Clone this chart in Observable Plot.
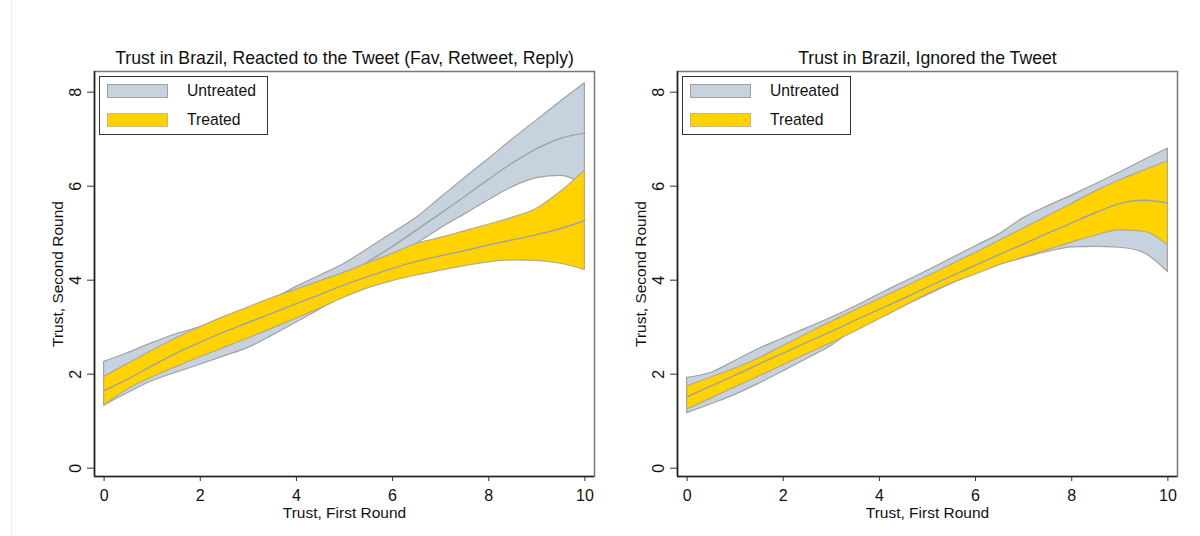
<!DOCTYPE html>
<html>
<head>
<meta charset="utf-8">
<script src="https://cdn.jsdelivr.net/npm/d3@7"></script>
<script src="https://cdn.jsdelivr.net/npm/@observablehq/plot@0.6"></script>
<style>
  html, body { margin: 0; padding: 0; background: #fff; width: 1200px; height: 536px; overflow: hidden; }
  body { font-family: "Liberation Sans", Arial, sans-serif; }
  #wrap { position: relative; width: 1200px; height: 536px; }
  #edge { position: absolute; left: 11px; top: 0; width: 0; height: 536px; border-left: 1px solid #ececec; }
  .panel { position: absolute; top: 0; }
  .legend { position: absolute; top: 76px; width: 169px; height: 59px; border: 1px solid #333; background: #fff; box-sizing: border-box; }
  .sw { position: absolute; left: 7px; width: 61px; height: 14px; box-sizing: border-box; }
  .lt { position: absolute; left: 87px; height: 18px; line-height: 18px; font-size: 15.7px; color: #111; white-space: nowrap; }
</style>
</head>
<body>
<div id="wrap"><div id="edge"></div></div>
<script>
// ---------------- data ----------------
const xs = [0, 0.5, 1, 1.5, 2, 2.5, 3, 3.5, 4, 4.5, 5, 5.5, 6, 6.5, 7, 7.5, 8, 8.5, 9, 9.5, 10];

// Left panel: Reacted to the Tweet
const reactUntreatedLo = [1.33, 1.6, 1.85, 2.03, 2.2, 2.38, 2.56, 2.82, 3.1, 3.38, 3.72, 4.08, 4.45, 4.77, 5.1, 5.4, 5.7, 5.98, 6.17, 6.22, 6.0];
const reactUntreatedMean = [1.8, 2.0, 2.25, 2.45, 2.62, 2.8, 3.0, 3.23, 3.5, 3.8, 4.08, 4.4, 4.72, 5.07, 5.42, 5.78, 6.15, 6.5, 6.8, 7.02, 7.13];
const reactUntreatedHi = [2.26, 2.45, 2.66, 2.85, 3.0, 3.15, 3.33, 3.58, 3.86, 4.1, 4.35, 4.67, 5.0, 5.33, 5.75, 6.17, 6.58, 7.0, 7.4, 7.8, 8.19];
const reactTreatedLo = [1.33, 1.68, 1.93, 2.15, 2.36, 2.56, 2.76, 2.97, 3.18, 3.4, 3.63, 3.83, 3.98, 4.1, 4.2, 4.3, 4.38, 4.42, 4.41, 4.35, 4.22];
const reactTreatedMean = [1.65, 1.9, 2.18, 2.45, 2.68, 2.9, 3.1, 3.3, 3.5, 3.7, 3.9, 4.08, 4.25, 4.4, 4.52, 4.63, 4.75, 4.86, 4.97, 5.1, 5.27];
const reactTreatedHi = [1.94, 2.22, 2.5, 2.76, 3.0, 3.22, 3.42, 3.62, 3.8, 3.98, 4.16, 4.36, 4.56, 4.77, 4.9, 5.04, 5.18, 5.33, 5.52, 5.88, 6.33];

// Right panel: Ignored the Tweet
const ignUntreatedLo = [1.17, 1.36, 1.56, 1.8, 2.06, 2.33, 2.6, 2.96, 3.2, 3.44, 3.68, 3.92, 4.14, 4.33, 4.47, 4.6, 4.7, 4.71, 4.69, 4.58, 4.17];
const ignUntreatedMean = [1.55, 1.7, 1.92, 2.17, 2.41, 2.65, 2.9, 3.2, 3.45, 3.7, 3.94, 4.19, 4.43, 4.66, 4.9, 5.08, 5.25, 5.38, 5.49, 5.56, 5.5];
const ignUntreatedHi = [1.92, 2.03, 2.28, 2.54, 2.76, 2.98, 3.2, 3.44, 3.7, 3.95, 4.2, 4.46, 4.72, 4.98, 5.32, 5.57, 5.8, 6.04, 6.29, 6.55, 6.8];
const ignTreatedLo = [1.25, 1.48, 1.72, 1.95, 2.19, 2.43, 2.66, 2.91, 3.17, 3.43, 3.7, 3.93, 4.12, 4.32, 4.48, 4.64, 4.8, 4.95, 5.06, 5.03, 4.74];
const ignTreatedMean = [1.52, 1.75, 1.98, 2.22, 2.45, 2.68, 2.91, 3.15, 3.38, 3.61, 3.85, 4.09, 4.32, 4.55, 4.77, 5.0, 5.22, 5.44, 5.63, 5.7, 5.64];
const ignTreatedHi = [1.74, 1.93, 2.12, 2.34, 2.6, 2.86, 3.11, 3.36, 3.6, 3.84, 4.08, 4.33, 4.58, 4.84, 5.1, 5.36, 5.62, 5.89, 6.12, 6.33, 6.53];

const xTicks = [0, 2, 4, 6, 8, 10];
const yTicks = [0, 2, 4, 6, 8];
const seriesNames = ["Untreated", "Treated"];
const titles = ["Trust in Brazil, Reacted to the Tweet (Fav, Retweet, Reply)", "Trust in Brazil, Ignored the Tweet"];
const xLabel = "Trust, First Round";
const yLabel = "Trust, Second Round";

// ---------------- style ----------------
const UNT_FILL = "#c6d2dd";
const TRT_FILL = "#ffd200";
const EDGE = "#a2a2a2";
const TRT_EDGE = "#b4aa8a";
const xDom = [-0.2, 10.2];
const yDom = [-0.177, 8.44];
const curve = "monotone-x";

function rowsOf(lo, m, hi, tlo, tm, thi) {
  return xs.map((x, i) => ({x, ulo: lo[i], um: m[i], uhi: hi[i], tlo: tlo[i], tm: tm[i], thi: thi[i]}));
}

function panel(rows, title) {
  return Plot.plot({
    width: 600,
    height: 536,
    marginLeft: 94,
    marginRight: 6,
    marginTop: 71,
    marginBottom: 60,
    style: {fontFamily: "'Liberation Sans', Arial, sans-serif", background: "transparent", color: "#111", overflow: "visible"},
    x: {domain: xDom, axis: null},
    y: {domain: yDom, axis: null},
    marks: [
      Plot.areaY(rows, {x: "x", y1: "ulo", y2: "uhi", fill: UNT_FILL, stroke: EDGE, strokeWidth: 1.2, curve}),
      Plot.lineY(rows, {x: "x", y: "um", stroke: EDGE, strokeWidth: 1.4, curve}),
      Plot.areaY(rows, {x: "x", y1: "tlo", y2: "thi", fill: TRT_FILL, stroke: TRT_EDGE, strokeWidth: 1.2, curve}),
      Plot.lineY(rows, {x: "x", y: "tm", stroke: EDGE, strokeWidth: 1.4, curve}),
      Plot.frame({stroke: "#777", strokeWidth: 1.5}),
      Plot.ruleX([xDom[0]], {stroke: "#222", strokeWidth: 1.6}),
      Plot.ruleY([yDom[0]], {stroke: "#222", strokeWidth: 1.6}),
      Plot.axisX({ticks: xTicks, tickSize: 5, tickPadding: 8, fontSize: 16, label: null, stroke: "#333"}),
      Plot.axisY({ticks: yTicks, tickSize: 7, tickFormat: () => "", label: null, stroke: "#333"}),
      Plot.text(yTicks, {y: d => d, text: d => String(d), frameAnchor: "left", dx: -19, rotate: -90, fontSize: 16, textAnchor: "middle", lineAnchor: "middle", fill: "#111"}),
      Plot.text([xLabel], {text: d => d, frameAnchor: "bottom", dy: 37, fontSize: 15.5, textAnchor: "middle", lineAnchor: "middle", fill: "#111"}),
      Plot.text([yLabel], {text: d => d, frameAnchor: "left", dx: -36, rotate: -90, fontSize: 15.5, textAnchor: "middle", lineAnchor: "middle", fill: "#111"}),
      Plot.text([title], {text: d => d, frameAnchor: "top", dy: -13, fontSize: 17.7, textAnchor: "middle", lineAnchor: "middle", fill: "#111"})
    ]
  });
}

function legend(left) {
  const box = document.createElement("div");
  box.className = "legend";
  box.style.left = left + "px";
  const cols = [[UNT_FILL, "#a0a0a0"], [TRT_FILL, "#c9b98a"]];
  seriesNames.forEach((name, i) => {
    const sw = document.createElement("div");
    sw.className = "sw";
    sw.style.top = (i === 0 ? 7 : 36) + "px";
    sw.style.background = cols[i][0];
    sw.style.border = "1.5px solid " + cols[i][1];
    box.appendChild(sw);
    const t = document.createElement("div");
    t.className = "lt";
    t.style.top = (i === 0 ? 5 : 34) + "px";
    t.textContent = name;
    box.appendChild(t);
  });
  return box;
}

const wrap = document.getElementById("wrap");
const left = panel(rowsOf(reactUntreatedLo, reactUntreatedMean, reactUntreatedHi, reactTreatedLo, reactTreatedMean, reactTreatedHi), titles[0]);
left.classList.add("panel"); left.style.left = "0px";
wrap.appendChild(left);
const right = panel(rowsOf(ignUntreatedLo, ignUntreatedMean, ignUntreatedHi, ignTreatedLo, ignTreatedMean, ignTreatedHi), titles[1]);
right.classList.add("panel"); right.style.left = "583px";
wrap.appendChild(right);
wrap.appendChild(legend(99));
wrap.appendChild(legend(682));
</script>
</body>
</html>
